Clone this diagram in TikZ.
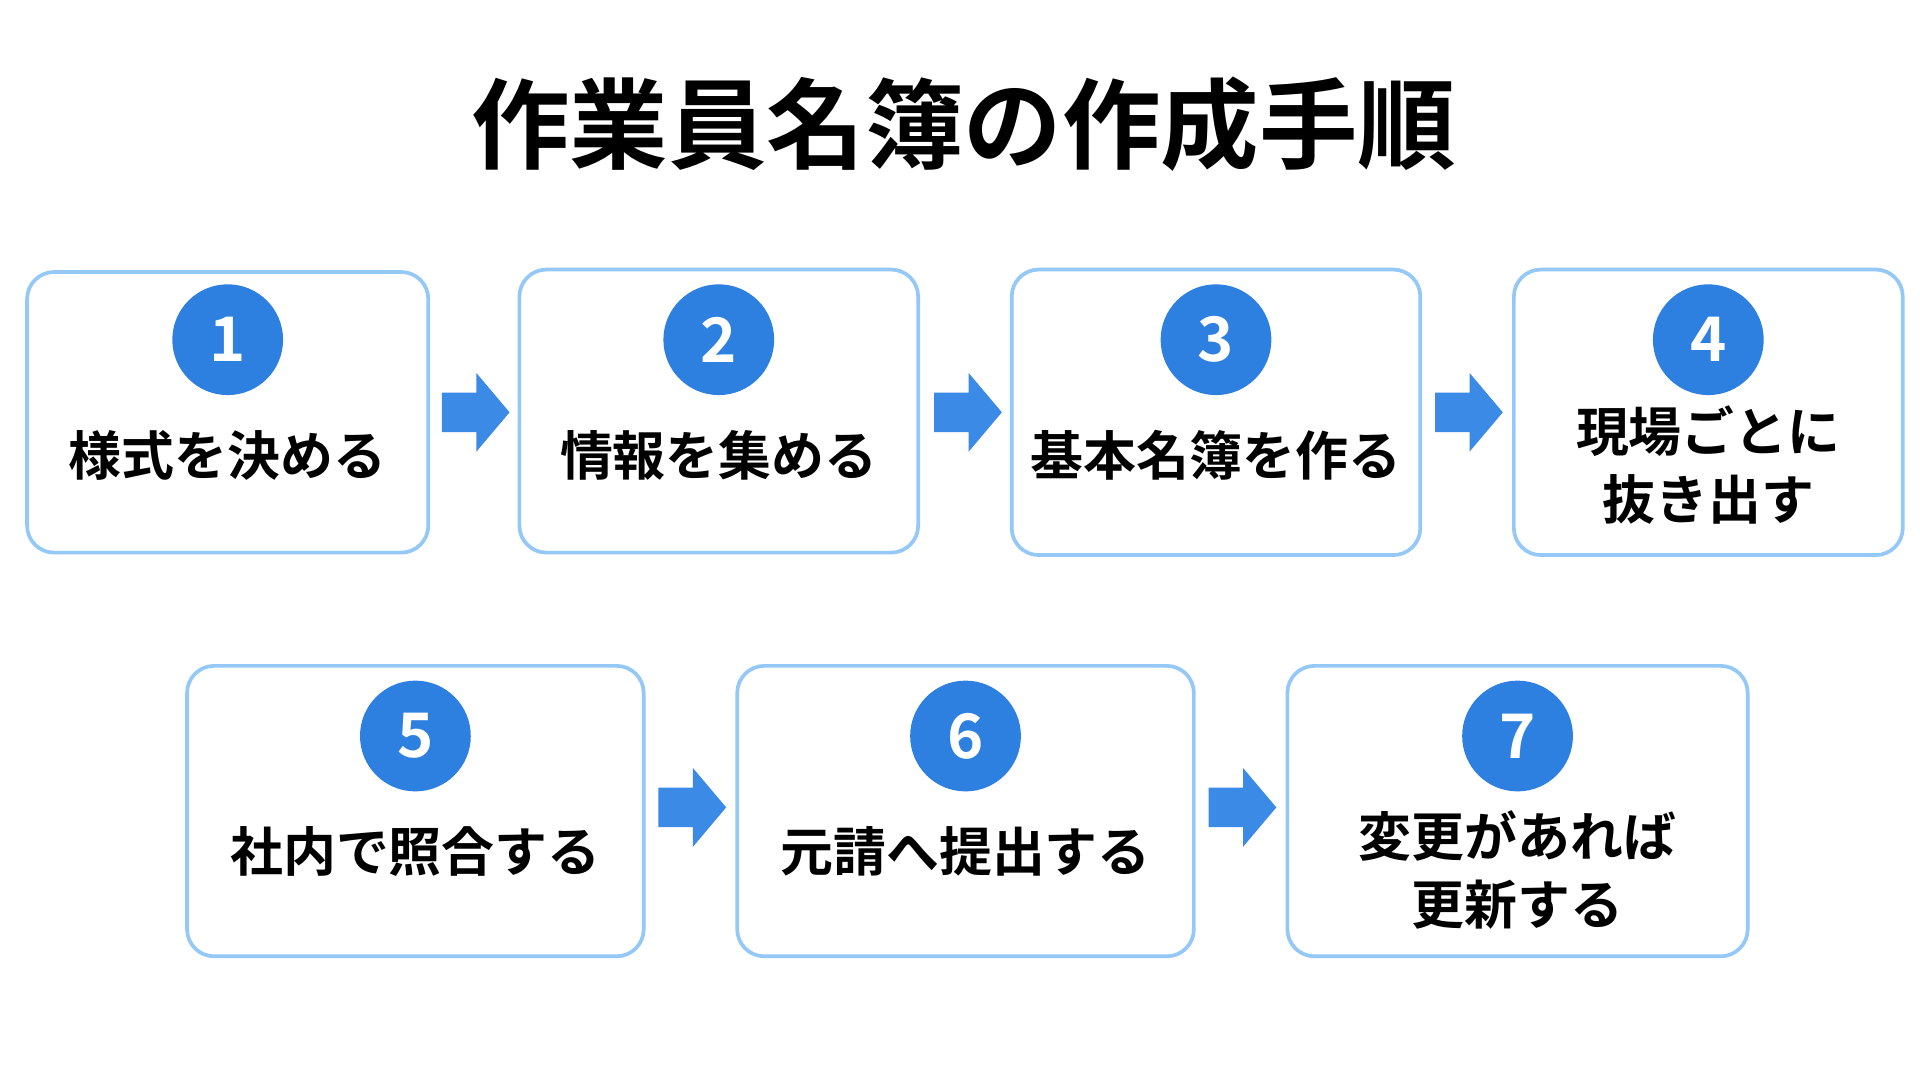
\documentclass[tikz,border=0pt]{standalone}
\usepackage{fontspec}
\setmainfont{Noto Sans CJK JP}[BoldFont={Noto Sans CJK JP Bold}]
\newfontfamily\cjkb{Noto Sans CJK JP Bold}
\definecolor{bd}{HTML}{94C8F6}
\definecolor{cf}{HTML}{2E80E0}
\definecolor{ar}{HTML}{3A8AE6}
\begin{document}
\begin{tikzpicture}[x=1pt,y=-1pt,
 box/.style={draw=bd,line width=3pt,rounded corners=22pt,fill=white},
 num/.style={circle,fill=cf,minimum size=90pt,inner sep=0,text=white,font=\cjkb\fontsize{50}{50}\selectfont},
 lab/.style={font=\cjkb\fontsize{43}{55}\selectfont,align=center},
 arr/.style={fill=ar}]
\useasboundingbox[fill=white] (0,0) rectangle (1560,884);
\node[font=\cjkb\fontsize{80}{80}\selectfont] (title) at (783,101) {作業員名簿の作成手順};
\def\bx#1#2#3#4#5#6#7#8#9{%
 \draw[box] (#2,#3) rectangle (#4,#5);
 \node[num] (n#1) at ({(#2+#4)/2},#6) {#1};
 \node[lab] (t#1) at ({(#2+#4)/2},#7) {#8};}
\bx{1}{22}{221}{348}{449}{276}{370}{様式を決める}{}
\bx{2}{422}{219}{746}{449}{276}{370}{情報を集める}{}
\bx{3}{822}{219}{1154}{451}{276}{370}{基本名簿を作る}{}
\bx{4}{1230}{219}{1546}{451}{276}{378}{現場ごとに\\抜き出す}{}
\bx{5}{152}{541}{523}{777}{598}{692}{社内で照合する}{}
\bx{6}{599}{541}{970}{777}{598}{692}{元請へ提出する}{}
\bx{7}{1046}{541}{1420}{777}{598}{707}{変更があれば\\更新する}{}
\def\ar#1#2{\fill[arr] (#1,#2-16) -- (#1+28,#2-16) -- (#1+28,#2-32) -- (#1+55,#2) -- (#1+28,#2+32) -- (#1+28,#2+16) -- (#1,#2+16) -- cycle;}
\ar{359}{335}\ar{759}{335}\ar{1166}{335}
\ar{535}{656}\ar{982}{656}
\end{tikzpicture}
\end{document}
